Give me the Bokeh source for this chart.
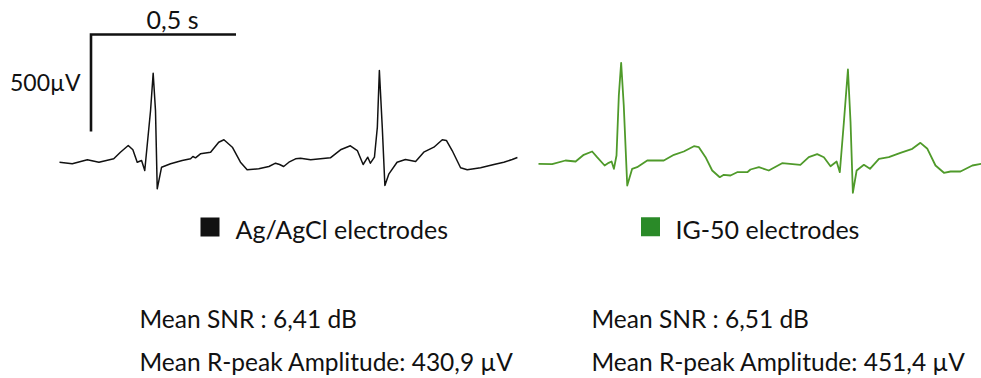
from bokeh.plotting import figure
from bokeh.models import Range1d
from bokeh.core.properties import value
from bokeh.embed import file_html
from bokeh.resources import INLINE

# ---------------- data (time in s, amplitude in µV) ----------------
agcl_t = [0.000, 0.044, 0.096, 0.136, 0.187, 0.210, 0.237, 0.253, 0.268, 0.283,
          0.294, 0.314, 0.323, 0.331, 0.337, 0.352, 0.383, 0.423, 0.452, 0.460,
          0.469, 0.486, 0.521, 0.549, 0.567, 0.596, 0.624, 0.647, 0.687, 0.722,
          0.745, 0.759, 0.773, 0.791, 0.814, 0.831, 0.866, 0.934, 0.969, 1.003,
          1.027, 1.047, 1.063, 1.072, 1.086, 1.096, 1.103, 1.113, 1.122, 1.136,
          1.164, 1.193, 1.228, 1.256, 1.291, 1.320, 1.334, 1.354, 1.383, 1.406,
          1.452, 1.498, 1.532, 1.561, 1.579]
agcl_uv = [-8.8, -17.0, 3.6, -8.8, 8.8, 42.8, 77.3, 55.2, -8.8, 0.0,
           -51.5, 257.7, 450.0, 257.7, -145.9, -34.5, -17.0, 0.0, 8.8, 20.6,
           13.9, 34.5, 42.8, 94.3, 106.7, 68.6, -8.8, -47.9, -42.8, -30.9,
           -13.9, -20.6, -30.9, -8.8, 8.8, 11.9, 3.6, 13.9, 55.2, 75.8,
           51.5, -20.6, 17.0, -13.9, 17.0, 171.6, 463.9, 171.6, -128.9, -68.6,
           -8.8, 5.2, -5.2, 42.8, 68.6, 106.7, 103.1, 51.5, -37.6, -47.9,
           -37.6, -20.6, -8.8, 5.2, 15.5]

ig50_t = [0.000, 0.047, 0.093, 0.128, 0.156, 0.185, 0.202, 0.228, 0.242, 0.252,
          0.260, 0.269, 0.277, 0.285, 0.294, 0.306, 0.323, 0.340, 0.375, 0.432,
          0.467, 0.501, 0.536, 0.553, 0.576, 0.599, 0.625, 0.639, 0.662, 0.685,
          0.720, 0.731, 0.760, 0.794, 0.840, 0.903, 0.932, 0.961, 0.984, 1.007,
          1.028, 1.039, 1.053, 1.067, 1.076, 1.084, 1.097, 1.122, 1.143, 1.174,
          1.208, 1.248, 1.289, 1.317, 1.341, 1.369, 1.398, 1.421, 1.455, 1.496,
          1.528]
ig50_uv = [-17.0, -19.1, 0.0, -5.2, 29.4, 46.4, 17.0, -25.8, -11.9, -5.2,
           -42.8, 25.8, 335.0, 503.6, 283.5, -128.9, -42.8, -34.5, 0.0, 0.0,
           29.4, 46.4, 73.7, 68.6, 17.0, -51.5, -86.1, -73.7, -77.3, -60.3,
           -60.3, -46.4, -34.5, -51.5, -13.9, -22.2, 17.0, 32.5, 17.0, -29.4,
           -5.2, -60.3, 197.4, 469.1, 197.4, -166.5, -51.5, -22.2, -42.8, 8.8,
           17.0, 39.7, 60.3, 91.2, 60.3, -25.8, -63.4, -56.7, -56.7, -25.8,
           -17.0]

series_labels = ["Ag/AgCl electrodes", "IG-50 electrodes"]
snr_db = ["6,41", "6,51"]
rpeak_uv = ["430,9", "451,4"]
scale_s = 0.5
scale_uv = 500
scale_labels = ["0,5 s", "500µV"]

# ---------------- layout helpers (pixel -> data) ----------------
W, H = 981, 378
X0, PX_PER_S = 59.0, 290.0
Y0, PX_PER_UV = 160.0, 0.194
BASE_FIX = 8.5  # text baseline correction (px)


def tx(px):
    return (px - X0) / PX_PER_S


def vy(py):
    return (Y0 - py) / PX_PER_UV


def vb(py):
    # y position for a text baseline at pixel row py
    return vy(py - BASE_FIX)


ig50_offset = tx(538)

p = figure(width=W, height=H, output_backend="svg", toolbar_location=None,
           x_range=Range1d(tx(0), tx(W)), y_range=Range1d(vy(H), vy(0)),
           x_axis_location=None, y_axis_location=None, min_border=0)
p.grid.visible = False
p.outline_line_color = None
p.background_fill_color = "white"
p.border_fill_color = "white"

black = "#111111"
green_line = "#4f9a2a"
green_box = "#2a8a28"
FONT = value("Lato")

# traces
p.line(agcl_t, agcl_uv, line_color=black, line_width=1.5, line_join="round")
p.line([t + ig50_offset for t in ig50_t], ig50_uv, line_color=green_line,
       line_width=1.8, line_join="round")

# scale bar
t0 = tx(90.5)
v_top = vy(34.0)
p.line([t0 + scale_s, t0, t0], [v_top, v_top, v_top - scale_uv],
       line_color=black, line_width=2.6, line_join="miter")
p.text([tx(172)], [vb(26.7)], text=[scale_labels[0]], text_font=FONT,
       text_font_size="25px", text_align="center", text_baseline="alphabetic",
       text_color=black)
p.text([tx(80)], [vb(90)], text=[scale_labels[1]], text_font=FONT,
       text_font_size="23px", text_align="right", text_baseline="alphabetic",
       text_color=black)

# legend entries
p.scatter([tx(209.5), tx(650)], [vy(226.5), vy(226.2)], marker="square", size=19,
          fill_color=[black, green_box], line_color=None)
p.text([tx(235), tx(675)], [vb(236.7), vb(236.7)], text=series_labels,
       text_font=FONT, text_font_size="25px", text_align="left",
       text_baseline="alphabetic", text_color=black)

# statistics
snr_txt = [f"Mean SNR : {s} dB" for s in snr_db]
amp_txt = [f"Mean R-peak Amplitude: {rpeak_uv[0]} µV",
           f"Mean R-peak Amplitude:  {rpeak_uv[1]} µV"]
p.text([tx(139), tx(591)], [vb(326.7), vb(326.7)], text=snr_txt, text_font=FONT,
       text_font_size="24.5px", text_align="left", text_baseline="alphabetic",
       text_color=black)
p.text([tx(139), tx(591)], [vb(369), vb(369)], text=amp_txt, text_font=FONT,
       text_font_size="24.5px", text_align="left", text_baseline="alphabetic",
       text_color=black)

open("out.html", "w").write(file_html(p, INLINE))
